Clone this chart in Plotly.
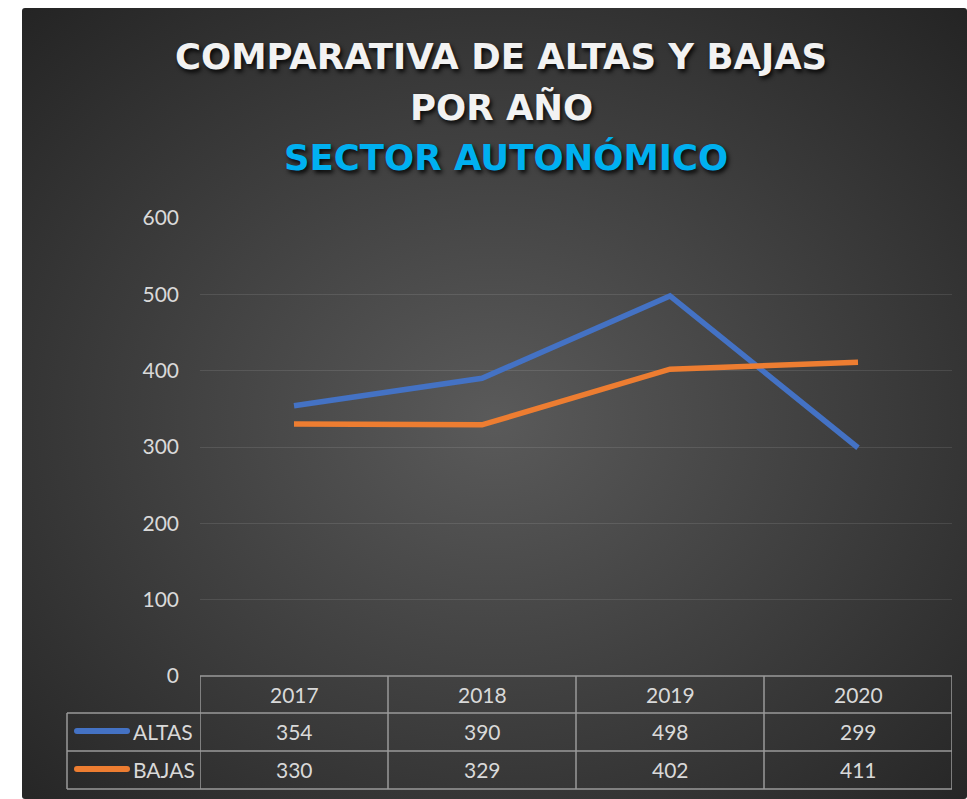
import base64
import plotly.graph_objects as go

# ---------------- data ----------------
years = ["2017", "2018", "2019", "2020"]
altas = [354, 390, 498, 299]
bajas = [330, 329, 402, 411]
series_names = ["ALTAS", "BAJAS"]
series_colors = ["#4472C4", "#ED7D31"]
y_ticks = [0, 100, 200, 300, 400, 500, 600]
title_lines = ["COMPARATIVA DE ALTAS Y BAJAS", "POR AÑO"]
subtitle = "SECTOR AUTONÓMICO"

# ---------------- layout geometry (page pixels) ----------------
W, H = 967, 799                           # figure size (body margin removed below)
L, R, T, B = 200, 952, 218, 676           # plot area
ROW_Y = [694, 731, 769]                   # header / altas / bajas row centres
ROW_LINES = [676, 713, 751, 789]
LEFT_COL = 67


def px(x):
    return (x - L) / (R - L)


def py(y):
    return (B - y) / (B - T)


TXT = "#D9D9D9"
GRID = "rgba(255,255,255,0.10)"
TABLE_LINE = "#9A9A9A"
FONT = "Lato"
TITLE_FONT = "DejaVu Sans"

# background: dark radial gradient panel
px0, py0 = 22, 8
svg = f'''<svg xmlns="http://www.w3.org/2000/svg" width="{W}" height="{H}" viewBox="0 0 {W} {H}" preserveAspectRatio="none">
<defs><radialGradient id="g" cx="0.5" cy="0.52" r="0.72">
<stop offset="0" stop-color="#5a5a5a"/><stop offset="1" stop-color="#242424"/></radialGradient></defs>
<rect x="0" y="0" width="{W}" height="{H}" fill="#ffffff"/>
<rect x="{px0}" y="{py0}" width="{W - px0}" height="{H - py0}" rx="3" fill="url(#g)"/>
</svg>'''
bg_src = "data:image/svg+xml;base64," + base64.b64encode(svg.encode("utf-8")).decode("ascii")

fig = go.Figure()
for name, vals, col in zip(series_names, [altas, bajas], series_colors):
    fig.add_trace(go.Scatter(
        x=years, y=vals, name=name, mode="lines",
        line=dict(color=col, width=5.5), hoverinfo="x+y+name",
    ))

shapes = []
annotations = []

# title
shadow = "2px 3px 4px rgba(0,0,0,0.85)"
title_y = [57, 107]
for line, yy in zip(title_lines, title_y):
    annotations.append(dict(
        text=line, xref="paper", yref="paper", x=px(501), y=py(yy),
        xanchor="center", yanchor="middle", showarrow=False,
        font=dict(family=TITLE_FONT, size=35.5, color="#F2F2F2", weight="bold", shadow=shadow),
    ))
annotations.append(dict(
    text=subtitle, xref="paper", yref="paper", x=px(506), y=py(158),
    xanchor="center", yanchor="middle", showarrow=False,
    font=dict(family=TITLE_FONT, size=35.5, color="#00B0F0", weight="bold", shadow=shadow),
))

# data table: grid lines
line_style = dict(color=TABLE_LINE, width=1.5)
shapes.append(dict(type="line", xref="paper", yref="paper",
                   x0=px(L), x1=px(R), y0=py(ROW_LINES[0]), y1=py(ROW_LINES[0]), line=line_style))
for yy in ROW_LINES[1:]:
    shapes.append(dict(type="line", xref="paper", yref="paper",
                       x0=px(LEFT_COL), x1=px(R), y0=py(yy), y1=py(yy), line=line_style))
shapes.append(dict(type="line", xref="paper", yref="paper",
                   x0=px(LEFT_COL), x1=px(LEFT_COL), y0=py(ROW_LINES[1]), y1=py(ROW_LINES[3]),
                   line=line_style))
n = len(years)
for i in range(n + 1):
    xx = i - 0.5
    shapes.append(dict(type="line", xref="x", yref="paper",
                       x0=xx, x1=xx, y0=py(ROW_LINES[0]), y1=py(ROW_LINES[3]), line=line_style))

# header years (category index positions)
for i, yr in enumerate(years):
    annotations.append(dict(text=yr, xref="x", yref="paper", x=i, y=py(ROW_Y[0]),
                            xanchor="center", yanchor="middle", showarrow=False,
                            font=dict(family=FONT, size=21, color=TXT)))
# rows
for r, (name, vals, col) in enumerate(zip(series_names, [altas, bajas], series_colors)):
    yc = py(ROW_Y[r + 1])
    shapes.append(dict(type="line", xref="paper", yref="paper",
                       x0=px(77), x1=px(127), y0=yc, y1=yc,
                       line=dict(color=col, width=6)))
    for xe in (77, 127):
        shapes.append(dict(type="circle", xref="paper", yref="paper",
                           xsizemode="pixel", ysizemode="pixel",
                           xanchor=px(xe), yanchor=yc, x0=-3, x1=3, y0=-3, y1=3,
                           fillcolor=col, line=dict(width=0)))
    annotations.append(dict(text=name, xref="paper", yref="paper", x=px(131), y=yc,
                            xanchor="left", yanchor="middle", showarrow=False,
                            font=dict(family=FONT, size=21, color=TXT)))
    for i, v in enumerate(vals):
        annotations.append(dict(text=str(v), xref="x", yref="paper", x=i, y=yc,
                                xanchor="center", yanchor="middle", showarrow=False,
                                font=dict(family=FONT, size=21, color=TXT)))

fig.update_layout(
    width=W, height=H,
    margin=dict(l=L, r=W - R, t=T, b=H - B, pad=0),
    paper_bgcolor="#FFFFFF",
    plot_bgcolor="rgba(0,0,0,0)",
    showlegend=False,
    shapes=shapes,
    annotations=annotations,
    images=[dict(source=bg_src, xref="paper", yref="paper",
                 x=px(0), y=py(0), sizex=W / (R - L), sizey=H / (B - T),
                 xanchor="left", yanchor="top", sizing="stretch", layer="below")],
    xaxis=dict(type="category", range=[-0.5, n - 0.5], showticklabels=False,
               showgrid=False, zeroline=False, showline=False, fixedrange=True),
    yaxis=dict(range=[0, 600], tickvals=y_ticks, showgrid=True, gridcolor=GRID, gridwidth=1,
               zeroline=False, showline=False, ticks="", ticklabelstandoff=20,
               tickfont=dict(family=FONT, size=21, color=TXT), fixedrange=True),
    font=dict(family=FONT),
)

fig.write_html(
    "out.html",
    config={"displayModeBar": False},
    post_script="document.body.style.margin='0';document.body.style.overflow='hidden';",
)
